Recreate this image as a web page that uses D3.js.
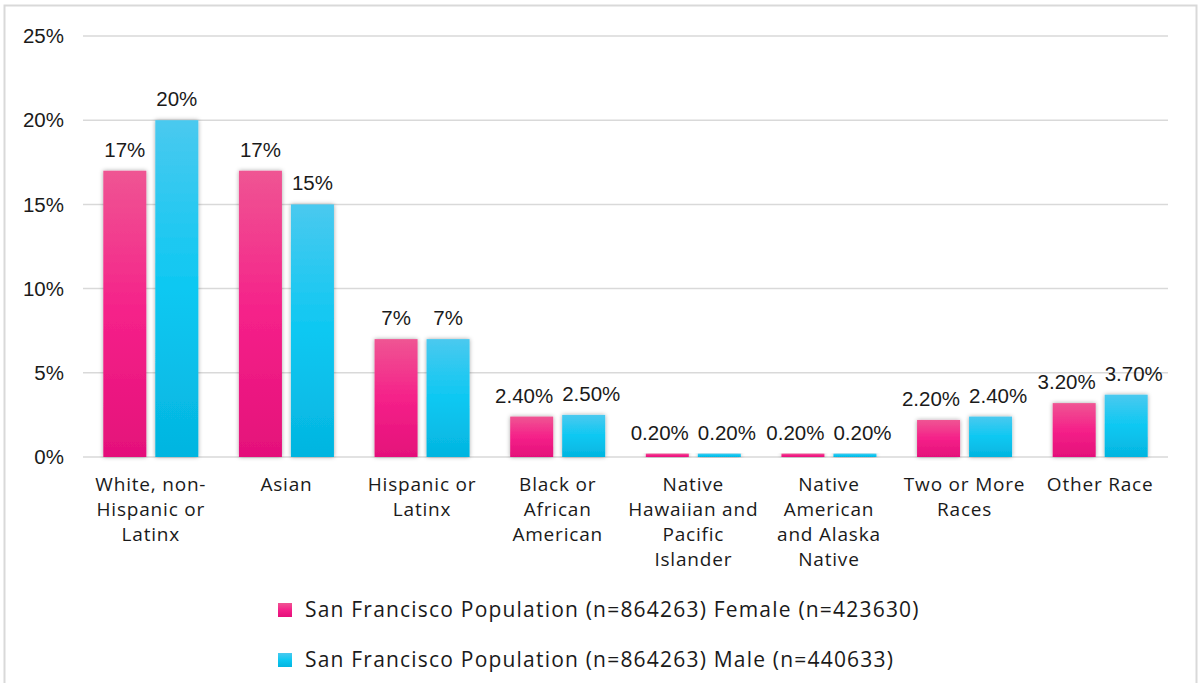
<!DOCTYPE html>
<html>
<head>
<meta charset="utf-8">
<script src="https://cdn.jsdelivr.net/npm/d3@7"></script>
<style>
  body { margin: 0; background: #fff; }
  svg { display: block; }
</style>
</head>
<body>
<svg width="1203" height="683"></svg>
<script>
const categories = [
    ["White, non-", "Hispanic or", "Latinx"],
    ["Asian"],
    ["Hispanic or", "Latinx"],
    ["Black or", "African", "American"],
    ["Native", "Hawaiian and", "Pacific", "Islander"],
    ["Native", "American", "and Alaska", "Native"],
    ["Two or More", "Races"],
    ["Other Race"]
];
const female = [17, 17, 7, 2.4, 0.2, 0.2, 2.2, 3.2];
const male = [20, 15, 7, 2.5, 0.2, 0.2, 2.4, 3.7];
const femaleLabels = ["17%", "17%", "7%", "2.40%", "0.20%", "0.20%", "2.20%", "3.20%"];
const maleLabels = ["20%", "15%", "7%", "2.50%", "0.20%", "0.20%", "2.40%", "3.70%"];
const seriesNames = [
    "San Francisco Population (n=864263) Female (n=423630)",
    "San Francisco Population (n=864263) Male (n=440633)"
];
const yTicks = [0, 5, 10, 15, 20, 25];

const svg = d3.select("svg");
const plotLeft = 83, plotRight = 1168, plotTop = 36, plotBottom = 457;
const labelFont = "Open Sans, sans-serif";

// frame
svg.append("rect")
    .attr("x", 4.5).attr("y", 5.5)
    .attr("width", 1192).attr("height", 690)
    .attr("fill", "none")
    .attr("stroke", "#d9d9d9")
    .attr("stroke-width", 2);

const defs = svg.append("defs");
function grad(id, stops) {
    const g = defs.append("linearGradient").attr("id", id)
        .attr("x1", 0).attr("y1", 0).attr("x2", 0).attr("y2", 1);
    stops.forEach(([o, c]) => g.append("stop").attr("offset", o).attr("stop-color", c));
}
grad("pink", [[0, "#ef5593"], [0.5, "#f52189"], [1, "#e4107a"]]);
grad("blue", [[0, "#4ac9ef"], [0.5, "#0dc8f2"], [1, "#04b5e0"]]);
const shadow = defs.append("filter").attr("id", "shadow")
    .attr("x", "-20%").attr("y", "-10%").attr("width", "140%").attr("height", "120%");
shadow.append("feDropShadow").attr("dx", 0).attr("dy", 0)
    .attr("stdDeviation", 2).attr("flood-color", "#000").attr("flood-opacity", 0.35);

const x = d3.scaleBand().domain(d3.range(categories.length)).range([plotLeft, plotRight]);
const y = d3.scaleLinear().domain([0, 25]).range([plotBottom, plotTop]);

// grid
svg.append("g")
    .selectAll("line")
    .data(yTicks)
    .join("line")
    .attr("x1", plotLeft).attr("x2", plotRight)
    .attr("y1", d => y(d)).attr("y2", d => y(d))
    .attr("stroke", "#d9d9d9")
    .attr("stroke-width", 1.5);

svg.append("g")
    .selectAll("text")
    .data(yTicks)
    .join("text")
    .attr("x", 64)
    .attr("y", d => y(d))
    .attr("dy", "0.35em")
    .attr("text-anchor", "end")
    .attr("font-family", "Liberation Sans, Arial, sans-serif")
    .attr("font-size", 20.5)
    .attr("fill", "#1a1a1a")
    .text(d => d + "%");

const barW = 43, gap = 9;
const series = [
    { values: female, labels: femaleLabels, fill: "url(#pink)", off: -gap / 2 - barW },
    { values: male, labels: maleLabels, fill: "url(#blue)", off: gap / 2 }
];

const labelGroups = [];
series.forEach((s, si) => {
    const cx = i => x(i) + x.bandwidth() / 2 + s.off;
    svg.append("g")
        .selectAll("rect")
        .data(s.values)
        .join("rect")
        .attr("x", (d, i) => cx(i))
        .attr("y", d => y(d))
        .attr("width", barW)
        .attr("height", d => plotBottom - y(d))
        .attr("fill", s.fill)
        .attr("filter", "url(#shadow)");

    const t = svg.append("g")
        .selectAll("text")
        .data(s.values)
        .join("text")
        .attr("x", (d, i) => cx(i) + barW / 2)
        .attr("y", d => y(d) - 14)
        .attr("text-anchor", "middle")
        .attr("font-family", "Liberation Sans, Arial, sans-serif")
        .attr("font-size", 20.5)
        .attr("fill", "#1a1a1a")
        .text((d, i) => s.labels[i]);
    labelGroups.push(t.nodes());
});

// push overlapping value labels apart within a category
const minGap = 9;
categories.forEach((c, i) => {
    const a = labelGroups[0][i], b = labelGroups[1][i];
    const ba = a.getBBox(), bb = b.getBBox();
    const overlap = (ba.x + ba.width + minGap) - bb.x;
    if (overlap > 0) {
        d3.select(a).attr("x", +a.getAttribute("x") - overlap / 2);
        d3.select(b).attr("x", +b.getAttribute("x") + overlap / 2);
    }
});

// category labels
svg.append("g")
    .selectAll("text")
    .data(categories)
    .join("text")
    .attr("x", (d, i) => x(i) + x.bandwidth() / 2)
    .attr("y", 491)
    .attr("text-anchor", "middle")
    .attr("font-family", labelFont)
    .attr("font-size", 19)
    .attr("letter-spacing", 0.8)
    .attr("fill", "#1a1a1a")
    .each(function (d) {
        d3.select(this).selectAll("tspan")
            .data(d)
            .join("tspan")
            .attr("x", d3.select(this).attr("x"))
            .attr("dy", (t, j) => j === 0 ? 0 : 25)
            .text(t => t);
    });

// legend
const legend = svg.append("g")
    .selectAll("g")
    .data(seriesNames)
    .join("g")
    .attr("transform", (d, i) => `translate(278, ${603 + i * 50})`);
legend.append("rect")
    .attr("width", 14).attr("height", 14)
    .attr("fill", (d, i) => i === 0 ? "url(#pink)" : "url(#blue)");
legend.append("text")
    .attr("x", 27).attr("y", 7)
    .attr("dy", "0.35em")
    .attr("font-family", labelFont)
    .attr("font-size", 21)
    .attr("letter-spacing", 1.2)
    .attr("fill", "#1a1a1a")
    .text(d => d);
</script>
</body>
</html>
